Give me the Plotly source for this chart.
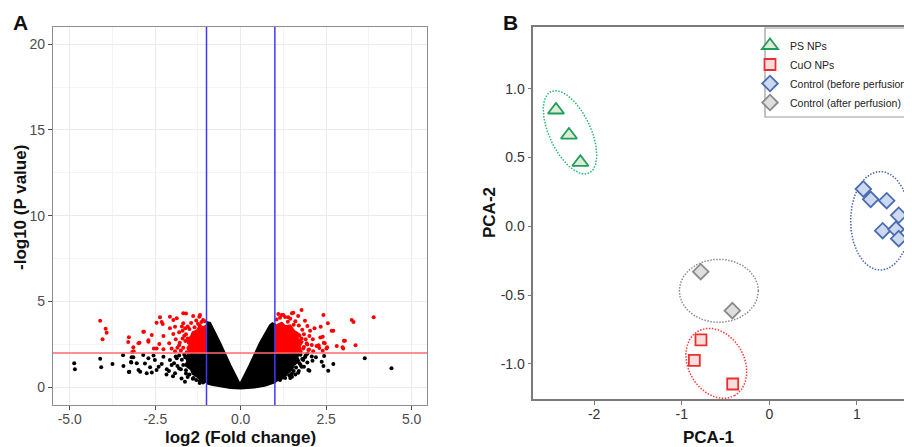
"""Volcano plot (A) and PCA score plot (B), side by side."""

import numpy as np
import plotly.graph_objects as go

# ---------------- panel A: volcano ----------------
FC_CUT = 1.0   # |log2 FC| threshold
P_CUT = 2.0    # -log10 p threshold

# dense black "V" of non-significant genes (outline)
v_poly_x = [-1.0, -0.9, -0.605, -0.313, -0.02, 0.27, 0.565, 0.86, 0.93, 1.0,
            1.0, 0.7, 0.4, 0.1, 0.0, -0.3, -0.6, -0.85, -1.0]
v_poly_y = [3.8, 3.75, 2.57, 1.30, 0.15, 1.30, 2.57, 3.6, 3.72, 3.65,
            0.3, 0.1, 0.0, -0.06, -0.06, -0.02, 0.07, 0.17, 0.25]

# dense black cores just outside the fold-change lines
bl_poly_x = [-1.0, -1.3, -1.5, -1.6, -1.55, -1.62, -1.45, -1.4, -1.25, -1.15,
             -1.0]
bl_poly_y = [2.0, 1.98, 2.0, 1.75, 1.5, 1.3, 1.05, 0.8, 0.6, 0.4, 0.3]
br_poly_x = [1.0, 1.35, 1.7, 1.65, 1.7, 1.55, 1.5, 1.35, 1.25, 1.1, 1.0]
br_poly_y = [2.0, 1.98, 2.0, 1.75, 1.55, 1.3, 1.05, 0.8, 0.55, 0.45, 0.35]

# dense red cores (significant)
rl_poly_x = [-1.0, -1.2, -1.35, -1.5, -1.55, -1.48, -1.58, -1.45, -1.4,
             -1.28, -1.2, -1.08, -1.0]
rl_poly_y = [2.05, 2.05, 2.1, 2.05, 2.3, 2.5, 2.75, 2.95, 3.2, 3.3, 3.55,
             3.5, 3.6]
rr_poly_x = [1.0, 1.3, 1.55, 1.75, 1.72, 1.8, 1.65, 1.7, 1.55, 1.45, 1.3,
             1.2, 1.05, 1.0]
rr_poly_y = [2.05, 2.05, 2.1, 2.05, 2.4, 2.65, 2.85, 3.1, 3.3, 3.6, 3.55,
             3.75, 3.6, 3.5]

red_x = [-4.11, -3.95, -3.92, -4.04, -3.27, -3.29, -3.17, -3.13,
         -2.36, -2.07, -1.87, -1.68, -1.60, -1.39, -1.21, -2.46, -2.28, -1.97,
         -1.92, -1.68, -2.07, -2.83, -2.60, -2.26, -1.97, -1.80, -2.96, -2.70,
         -2.38, -2.09, -1.90, -2.54, -2.26, -2.02, -1.92, -3.14, -2.85, -2.31,
         -1.19, -2.70, -2.46, -2.99, -1.55, -1.45, -1.30, -1.70, -1.62, -1.80,
         -1.75, -1.65, -1.10,
         -1.50, -1.60, -1.70, -1.78, -1.68, -1.58, -1.52, -1.35, -1.25,
         -1.15, -1.05, -1.62, -1.48, -1.85, -1.72, -1.55, -1.40, -1.20,
         3.25, 3.30, 3.89, 3.05, 3.36, 2.42, 2.55, 2.34, 2.16, 2.66, 2.40,
         2.46, 2.22, 2.30, 2.53, 2.81, 3.02, 2.98, 2.40, 1.78, 1.50, 1.25,
         1.39, 1.54, 1.68, 1.88, 1.95, 2.03, 2.01, 2.11, 1.93, 2.08, 1.83,
         1.98, 2.12, 1.10, 1.20, 2.71, 3.00, 2.51, 2.43, 2.33, 2.28,
         1.05, 1.15, 1.30, 1.45, 1.60, 1.70, 1.80, 1.85, 1.90, 1.95, 2.00,
         1.75, 1.85, 1.72, 1.55, 1.38, 1.65, 1.78]
red_y = [3.88, 3.42, 3.18, 2.80, 2.92, 2.64, 2.06, 2.10,
         4.08, 4.12, 4.02, 4.31, 4.30, 4.16, 4.12, 3.77, 3.69, 3.92,
         3.53, 3.73, 3.44, 3.24, 3.05, 2.99, 3.11, 3.21, 2.60, 2.66,
         2.52, 2.57, 2.80, 2.27, 2.22, 2.27, 2.10, 2.33, 3.24, 3.81,
         4.22, 2.75, 2.27, 2.57, 3.55, 3.75, 3.90, 3.30, 2.70, 2.45,
         2.15, 3.00, 3.92,
         3.40, 3.10, 2.85, 2.60, 2.30, 2.05, 2.60, 3.50, 3.70,
         3.80, 3.85, 3.45, 2.25, 2.30, 3.55, 2.85, 3.00, 3.60,
         3.92, 3.81, 4.08, 2.72, 2.45, 4.22, 3.73, 3.53, 3.44, 3.30, 2.95,
         2.57, 2.41, 2.29, 2.33, 2.41, 2.72, 2.33, 2.13, 4.50, 4.31, 4.22,
         4.08, 4.35, 4.16, 3.88, 3.57, 3.30, 2.99, 2.80, 2.57, 2.47, 2.27,
         2.17, 2.10, 4.27, 4.22, 3.30, 2.27, 2.27, 2.60, 2.90, 2.45,
         3.95, 4.05, 4.10, 4.00, 3.85, 3.60, 3.35, 3.10, 2.80, 2.50, 2.20,
         2.10, 2.35, 3.00, 3.65, 3.82, 2.60, 2.85]

black_x = [-4.87, -4.85, -4.11, -4.08, -3.75, -3.44, -3.43, -3.27, -3.21,
           -3.19, -3.26, -3.20, -3.04, -2.85, -2.99, -3.14, -2.80, -2.70,
           -2.65, -2.51, -2.46, -2.31, -2.26, -2.16, -2.07, -2.02, -1.92,
           -1.87, -2.94, -2.75, -2.60, -2.17, -1.73, -1.63, -1.90, -1.95,
           -1.80, -1.60, -1.40, -1.20, -2.40, -2.55, -2.10, -1.98,
           -1.65, -1.72, -1.68, -1.60, -1.50, -1.38, -1.20, -1.10, -1.80,
           -1.85, -1.55, -1.30, -1.75, -1.62,
           2.44, 2.37, 2.56, 2.42, 2.01, 2.10, 1.83, 2.08, 1.98, 2.71, 3.63,
           4.41, 1.90, 1.75, 1.60, 1.45, 1.85, 2.20, 1.70, 1.50, 1.95,
           1.75, 1.80, 1.72, 1.62, 1.55, 1.42, 1.30, 1.15, 1.88, 1.78,
           1.50, 1.68, 1.95]
black_y = [1.40, 1.05, 1.67, 1.17, 1.36, 1.87, 1.24, 0.89, 1.48,
           1.75, 0.91, 1.45, 1.40, 1.88, 1.01, 1.75, 1.39, 1.69,
           1.17, 1.59, 1.01, 1.36, 1.78, 1.05, 1.59, 1.30, 0.82,
           1.69, 0.91, 0.82, 0.86, 0.75, 0.52, 0.33, 1.80, 1.40,
           1.10, 0.80, 0.50, 0.25, 1.20, 1.85, 0.95, 0.65,
           1.90, 1.60, 1.30, 1.00, 0.75, 0.55, 0.35, 0.28, 1.85,
           1.25, 0.60, 0.42, 1.05, 1.75,
           1.83, 1.49, 0.97, 1.24, 0.97, 1.55, 1.59, 1.80, 1.01, 1.36, 1.69,
           1.11, 1.85, 1.30, 0.75, 0.55, 1.20, 1.75, 0.95, 0.80, 1.45,
           1.90, 1.65, 1.40, 1.15, 0.95, 0.70, 0.55, 0.42, 1.75, 1.20,
           0.62, 0.85, 1.95]

# ---------------- panel B: PCA ----------------
ps_x = [-2.435, -2.287, -2.157]
ps_y = [0.845, 0.663, 0.465]
cuo_x = [-0.780, -0.856, -0.418]
cuo_y = [-0.826, -0.974, -1.146]
before_x = [1.073, 1.157, 1.340, 1.477, 1.294, 1.446, 1.477]
before_y = [0.271, 0.196, 0.186, 0.080, -0.032, -0.022, -0.090]
after_x = [-0.783, -0.422]
after_y = [-0.330, -0.613]

# group ellipses: centre, and the two semi-axis vectors (data units)
ell_cx = [-2.275, -0.605, 1.267, -0.576]
ell_cy = [0.683, -0.996, 0.040, -0.469]
ell_u = [(0.217, -0.296), (0.211, -0.233), (0.339, 0.0), (0.451, 0.0)]
ell_v = [(-0.215, -0.063), (-0.277, -0.102), (0.0, 0.358), (0.0, 0.229)]
ell_colors = ["#2bb673", "#ff3b3b", "#4a68b0", "#8c8c8c"]

FONT = "Liberation Sans, Arial, sans-serif"
W, H = 912, 447
OFF = 8  # the page body adds an 8 px margin at left and top


def xp(px):
    """page pixel column -> paper x"""
    return (px - OFF) / W


def yp(py):
    """page pixel row -> paper y"""
    return 1 - (py - OFF) / H


fig = go.Figure()

# --- A traces
for px, py, col in [(v_poly_x, v_poly_y, "black"),
                    (bl_poly_x, bl_poly_y, "black"),
                    (br_poly_x, br_poly_y, "black"),
                    (rl_poly_x, rl_poly_y, "#ff0000"),
                    (rr_poly_x, rr_poly_y, "#ff0000")]:
    fig.add_trace(go.Scatter(
        x=px, y=py, mode="lines", fill="toself", fillcolor=col,
        line={"color": col, "width": 2.5},
        showlegend=False, xaxis="x", yaxis="y", hoverinfo="skip"))
fig.add_trace(go.Scatter(
    x=black_x, y=black_y, mode="markers", showlegend=False,
    marker={"color": "black", "size": 4}, xaxis="x", yaxis="y"))
fig.add_trace(go.Scatter(
    x=red_x, y=red_y, mode="markers", showlegend=False,
    marker={"color": "#ff0000", "size": 4}, xaxis="x", yaxis="y"))

# --- B ellipses
t = np.linspace(0, 2 * np.pi, 200)
for cx, cy, u, v, col in zip(ell_cx, ell_cy, ell_u, ell_v, ell_colors):
    fig.add_trace(go.Scatter(
        x=cx + u[0] * np.cos(t) + v[0] * np.sin(t),
        y=cy + u[1] * np.cos(t) + v[1] * np.sin(t),
        mode="lines", line={"color": col, "width": 1.5, "dash": "1.5px,1.5px"},
        showlegend=False, xaxis="x2", yaxis="y2", hoverinfo="skip"))

groups = [
    ("PS NPs", ps_x, ps_y, "triangle-up", 14, "#1e9e5a", "#dcebd6"),
    ("CuO NPs", cuo_x, cuo_y, "square", 11, "#e8302f", "#fbdcdc"),
    ("Control (before perfusion)", before_x, before_y, "diamond", 12,
     "#4a6cb3", "#cdd8f1"),
    ("Control (after perfusion)", after_x, after_y, "diamond", 12,
     "#8a8a8a", "#dedede"),
]
for name, gx, gy, sym, size, edge, face in groups:
    fig.add_trace(go.Scatter(
        x=gx, y=gy, mode="markers", name=name,
        marker={"symbol": sym, "size": size, "color": face,
                "line": {"color": edge, "width": 1.8}},
        xaxis="x2", yaxis="y2"))

tick_font = {"family": FONT, "size": 14, "color": "#4d4d4d"}
fig.update_layout(
    width=W, height=H,
    margin={"l": 0, "r": 0, "t": 0, "b": 0, "autoexpand": False},
    paper_bgcolor="white", plot_bgcolor="white",
    xaxis={
        "domain": [xp(53), xp(427)], "range": [-5.49, 5.45], "anchor": "y",
        "tickvals": [-5, -2.5, 0, 2.5, 5],
        "ticktext": ["-5.0", "-2.5", "0.0", "2.5", "5.0"],
        "showgrid": True, "gridcolor": "#ebebeb", "gridwidth": 1,
        "minor": {"dtick": 1.25, "tick0": 0, "showgrid": True,
                  "gridcolor": "#f4f4f4", "gridwidth": 0.7},
        "zeroline": False, "showline": True, "mirror": True,
        "linecolor": "#8c8c8c", "linewidth": 1.2,
        "ticks": "outside", "ticklen": 4, "tickcolor": "#4d4d4d",
        "tickfont": tick_font, "automargin": False,
        "ticklabelstandoff": -3,
    },
    yaxis={
        "domain": [yp(405), yp(27)], "range": [-1.03, 21.0], "anchor": "x",
        "tickvals": [0, 5, 10, 15, 20],
        "showgrid": True, "gridcolor": "#ebebeb", "gridwidth": 1,
        "minor": {"dtick": 2.5, "tick0": 0, "showgrid": True,
                  "gridcolor": "#f4f4f4", "gridwidth": 0.7},
        "zeroline": False, "showline": True, "mirror": True,
        "linecolor": "#8c8c8c", "linewidth": 1.2,
        "ticks": "outside", "ticklen": 4, "tickcolor": "#4d4d4d",
        "tickfont": tick_font, "automargin": False,
    },
    xaxis2={
        "domain": [xp(533.3), 1.0], "range": [-2.694, 1.72], "anchor": "y2",
        "tickvals": [-2, -1, 0, 1],
        "ticktext": ["-2", "-1", "0", "1"],
        "showgrid": False, "zeroline": False, "showline": True,
        "mirror": True, "linecolor": "#7a7a7a", "linewidth": 1.5,
        "ticks": "outside", "ticklen": 4, "tickcolor": "#7a7a7a",
        "tickfont": {"family": FONT, "size": 14, "color": "#333333"},
        "automargin": False, "ticklabelstandoff": -3,
    },
    yaxis2={
        "domain": [yp(399), yp(27.3)], "range": [-1.255, 1.446],
        "anchor": "x2",
        "tickvals": [-1, -0.5, 0, 0.5, 1],
        "ticktext": ["-1.0", "-0.5", "0.0", "0.5", "1.0"],
        "showgrid": False, "zeroline": False, "showline": True,
        "linecolor": "#7a7a7a", "linewidth": 1.5,
        "ticks": "outside", "ticklen": 4, "tickcolor": "#7a7a7a",
        "tickfont": {"family": FONT, "size": 14, "color": "#333333"},
        "automargin": False,
    },
    legend={
        "x": xp(750), "y": yp(31), "xanchor": "left", "yanchor": "top",
        "borderwidth": 0, "bgcolor": "rgba(0,0,0,0)",
        "font": {"family": FONT, "size": 10.5, "color": "#222222"},
        "tracegroupgap": 0, "itemwidth": 30,
    },
    shapes=[
        {"type": "line", "xref": "x", "yref": "y domain", "x0": -FC_CUT,
         "x1": -FC_CUT, "y0": 0, "y1": 1,
         "line": {"color": "#3a3aff", "width": 1.5}},
        {"type": "line", "xref": "x", "yref": "y domain", "x0": FC_CUT,
         "x1": FC_CUT, "y0": 0, "y1": 1,
         "line": {"color": "#3a3aff", "width": 1.5}},
        {"type": "line", "xref": "x domain", "yref": "y", "x0": 0, "x1": 1,
         "y0": P_CUT, "y1": P_CUT,
         "line": {"color": "#ff6b6b", "width": 1.6}},
        # legend frame (its right side runs off the page as in the figure)
        {"type": "rect", "xref": "paper", "yref": "paper",
         "x0": xp(765), "x1": 1.05, "y0": yp(117), "y1": yp(28),
         "line": {"color": "#9a9a9a", "width": 1.2},
         "fillcolor": "white", "layer": "below"},
    ],
)

title_font = {"family": FONT, "size": 17, "color": "#111111"}
annotations = [
    ("A", xp(20), yp(22), 21, 0, "middle"),
    ("B", xp(510), yp(22), 21, 0, "middle"),
    ("-log10 (P value)", xp(20), yp(208), 17, -90, "middle"),
    ("log2 (Fold change)", xp(240), yp(449), 17, 0, "bottom"),
    ("PCA-2", xp(489), yp(213), 17, -90, "middle"),
    ("PCA-1", xp(708), yp(449), 17, 0, "bottom"),
]
for text, ax, ay, size, ang, yanc in annotations:
    fig.add_annotation(
        text=f"<b>{text}</b>", x=ax, y=ay, xref="paper", yref="paper",
        showarrow=False, textangle=ang, xanchor="center", yanchor=yanc,
        font={**title_font, "size": size})

fig.write_html("out.html")
